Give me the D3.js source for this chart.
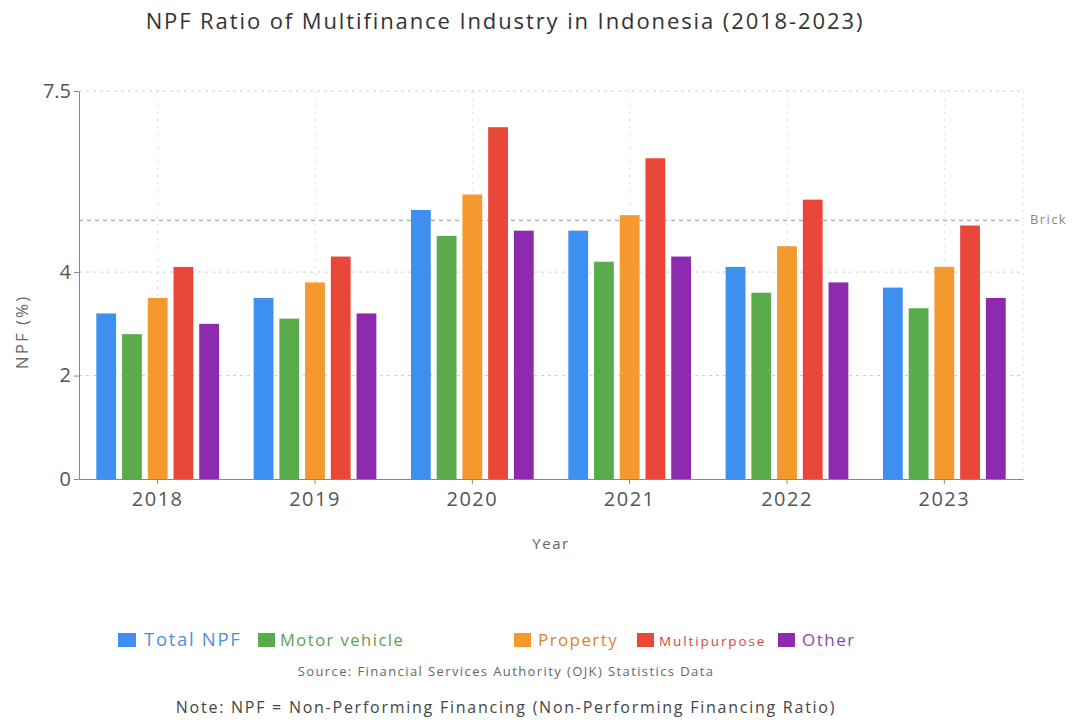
<!DOCTYPE html>
<html><head><meta charset="utf-8">
<script src="https://cdn.jsdelivr.net/npm/d3@7"></script>
<style>body{margin:0;background:#fff;font-family:"Open Sans","Noto Sans",sans-serif;}</style>
</head><body><svg id="c" width="1073" height="720"></svg>
<script>
const years = ["2018","2019","2020","2021","2022","2023"];
const seriesNames = ["Total NPF","Motor vehicle","Property","Multipurpose","Other"];
const totalNPF     = [3.2, 3.5, 5.2, 4.8, 4.1, 3.7];
const motorVehicle = [2.8, 3.1, 4.7, 4.2, 3.6, 3.3];
const property     = [3.5, 3.8, 5.5, 5.1, 4.5, 4.1];
const multipurpose = [4.1, 4.3, 6.8, 6.2, 5.4, 4.9];
const other        = [3.0, 3.2, 4.8, 4.3, 3.8, 3.5];
const yTicks = [0, 2, 4, 7.5];
const refValue = 5;
const refLabel = "Brick";
const colors = ["#3d8ff0","#5aab4c","#f5992e","#e8473a","#8e2aae"];

const seriesValues = [totalNPF, motorVehicle, property, multipurpose, other];
const svg = d3.select("#c");
const L = 79, R = 1023, T = 91, B = 479;

const x0 = d3.scaleBand().domain(years).range([L, R]).paddingInner(0.22).paddingOuter(0.11);
const x1 = d3.scaleBand().domain(seriesNames).range([0, x0.bandwidth()]).paddingInner(0.23);
const y = d3.scaleLinear().domain([0, 7.5]).range([B, T]);

// grid horizontal
svg.append("g").selectAll("line").data(yTicks.filter(d=>d>0)).join("line")
  .attr("x1", L).attr("x2", R).attr("y1", d=>y(d)).attr("y2", d=>y(d))
  .attr("stroke", "#d0d0d0").attr("stroke-dasharray", "3,4").attr("stroke-width", 1);
// grid vertical
const vx = years.map(d => x0(d) + x0.bandwidth()/2);
svg.append("g").selectAll("line").data(vx.concat([R])).join("line")
  .attr("x1", d=>d).attr("x2", d=>d).attr("y1", T).attr("y2", B)
  .attr("stroke", "#dadada").attr("stroke-dasharray", "2,5").attr("stroke-width", 1);

// reference line
svg.append("line").attr("x1", L).attr("x2", R).attr("y1", y(refValue)).attr("y2", y(refValue))
  .attr("stroke", "#999").attr("stroke-dasharray", "4,4").attr("stroke-width", 1);
svg.append("text").attr("x", R + 7).attr("y", y(refValue) + 4).text(refLabel)
  .attr("font-size", 13).attr("fill", "#888").style("letter-spacing", "1.4px");

// bars
const g = svg.append("g").selectAll("g").data(years).join("g")
  .attr("transform", d => `translate(${x0(d)},0)`);
g.selectAll("rect").data((d,i) => seriesNames.map((s,j) => ({s, v: seriesValues[j][i], c: colors[j]}))).join("rect")
  .attr("x", d => x1(d.s)).attr("width", x1.bandwidth())
  .attr("y", d => y(d.v)).attr("height", d => B - y(d.v)).attr("fill", d => d.c);

// axes
const xAxis = svg.append("g").attr("transform", `translate(0,${B})`)
  .call(d3.axisBottom(x0).tickSize(5).tickSizeOuter(0));
xAxis.select(".domain").attr("stroke", "#888");
xAxis.selectAll(".tick line").attr("stroke", "#888");
xAxis.selectAll("text").attr("font-size", 20).attr("fill", "#555").attr("dy", "0.95em")
  .attr("font-family", "'Open Sans',sans-serif").style("letter-spacing", "1.5px");

const yAxis = svg.append("g").attr("transform", `translate(${L},0)`)
  .call(d3.axisLeft(y).tickValues(yTicks).tickFormat(d => d).tickSize(5).tickSizeOuter(0));
yAxis.select(".domain").attr("stroke", "#888");
yAxis.selectAll(".tick line").attr("stroke", "#888");
yAxis.selectAll("text").attr("font-size", 20).attr("fill", "#555").attr("x", -8)
  .attr("font-family", "'Open Sans',sans-serif");

// titles
svg.append("text").attr("x", 505).attr("y", 29).attr("text-anchor", "middle")
  .attr("font-size", 22).attr("fill", "#333").style("letter-spacing", "1.9px")
  .text("NPF Ratio of Multifinance Industry in Indonesia (2018-2023)");
svg.append("text").attr("x", 551).attr("y", 549).attr("text-anchor", "middle")
  .attr("font-size", 15).attr("fill", "#666").style("letter-spacing", "1.5px").text("Year");
svg.append("text").attr("transform", "translate(28,332) rotate(-90)").attr("text-anchor", "middle")
  .attr("font-size", 17).attr("fill", "#666").style("letter-spacing", "2px").text("NPF (%)");

// legend
const legendItems = [
  {x:118, tx:144, fs:18.5, ls:1.7, col:"#4a90e2"},
  {x:258, tx:280, fs:16.5, ls:1.5, col:"#5a9e50"},
  {x:514, tx:538, fs:17, ls:1.4, col:"#d9832a"},
  {x:637, tx:659, fs:13.5, ls:1.9, col:"#d9443a"},
  {x:778, tx:802, fs:17, ls:1.5, col:"#8e44ad"}
];
const lg = svg.append("g").selectAll("g").data(seriesNames).join("g");
lg.append("rect").attr("x", (d,i)=>legendItems[i].x).attr("y", 633).attr("width", (d,i)=> i===0?18:17).attr("height", 14)
  .attr("fill", (d,i)=>colors[i]);
lg.append("text").attr("x", (d,i)=>legendItems[i].tx).attr("y", 646)
  .attr("font-size", (d,i)=>legendItems[i].fs).attr("fill", (d,i)=>legendItems[i].col)
  .style("letter-spacing", (d,i)=>legendItems[i].ls + "px").text(d=>d);

svg.append("text").attr("x", 506).attr("y", 676).attr("text-anchor", "middle")
  .attr("font-size", 13).attr("fill", "#666").style("letter-spacing","1.4px")
  .text("Source: Financial Services Authority (OJK) Statistics Data");
svg.append("text").attr("x", 506).attr("y", 713).attr("text-anchor", "middle")
  .attr("font-size", 16).attr("fill", "#444").style("letter-spacing","1.75px")
  .text("Note: NPF = Non-Performing Financing (Non-Performing Financing Ratio)");
</script></body></html>
